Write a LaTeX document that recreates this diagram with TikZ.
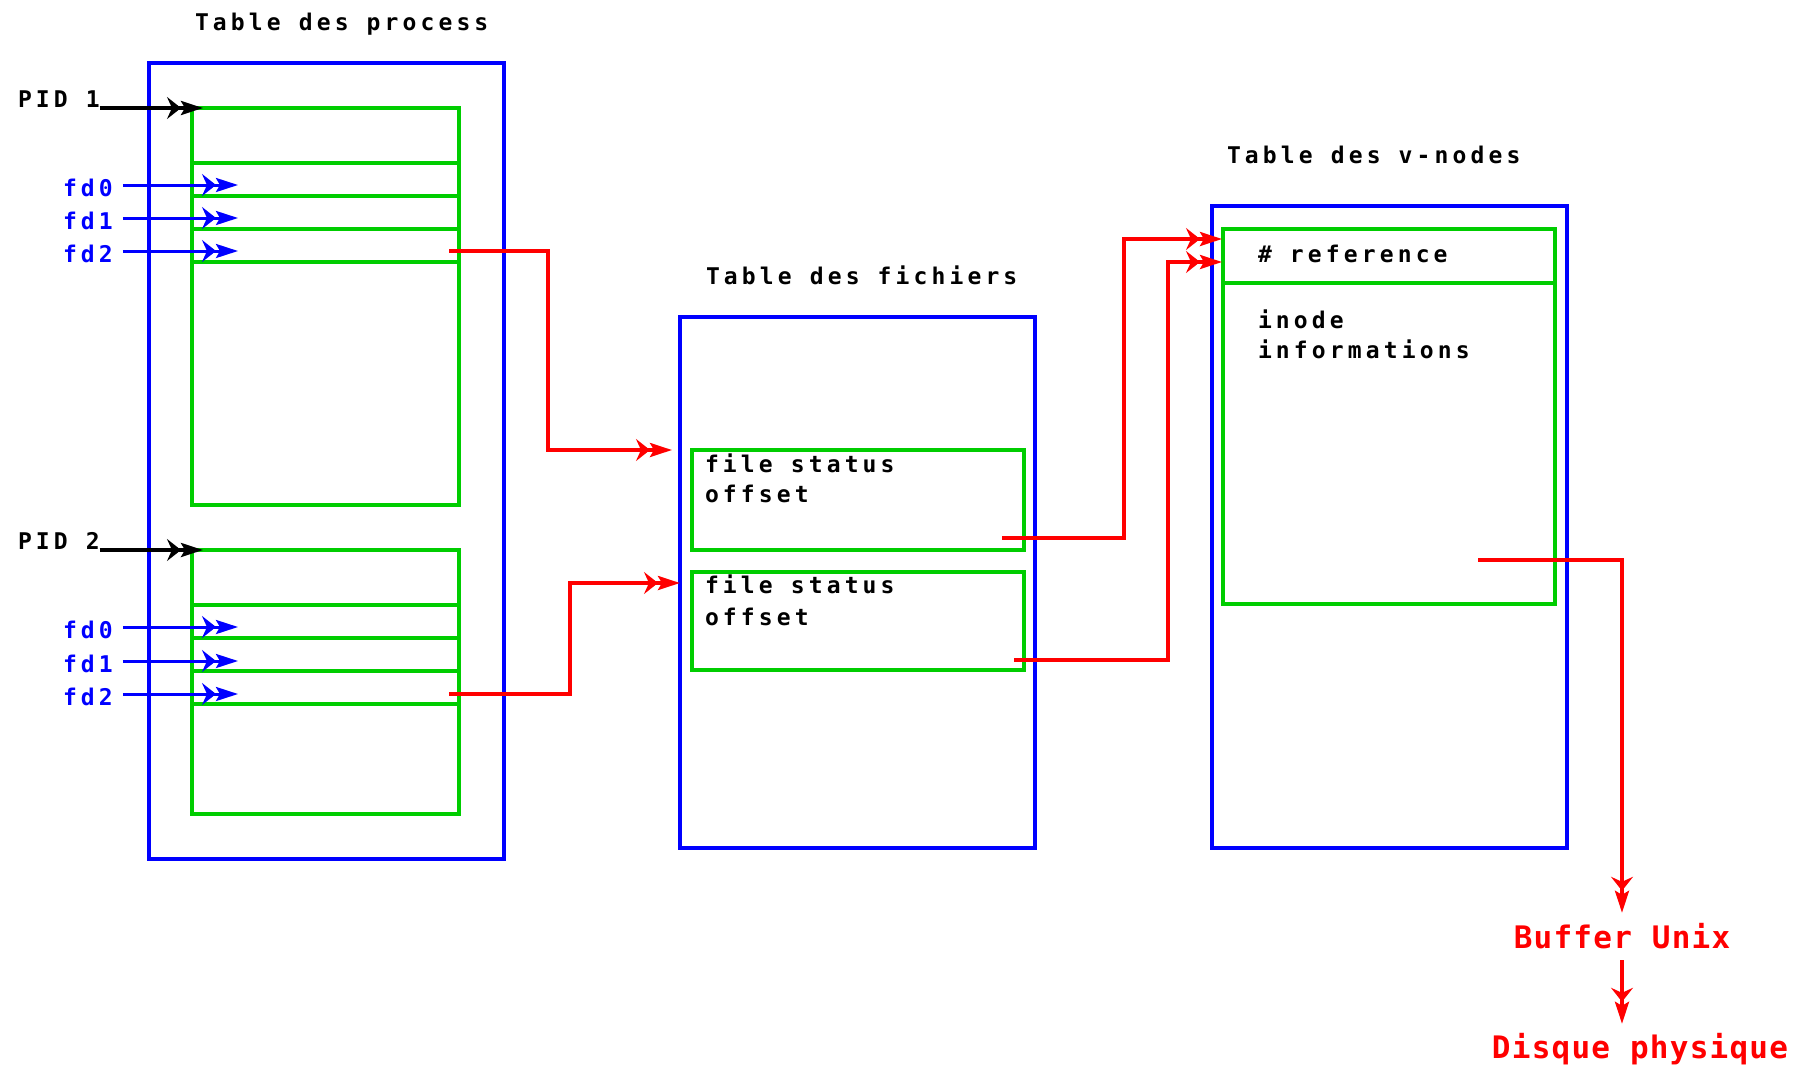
\documentclass[tikz,border=0pt]{standalone}
\usepackage{fontspec}
\usetikzlibrary{arrows.meta}
\newfontfamily\pixfont[LetterSpace=18]{DejaVu Sans Mono}
\newfontfamily\bigpix[LetterSpace=4]{DejaVu Sans Mono}
\definecolor{vblue}{RGB}{0,0,255}
\definecolor{vgreen}{RGB}{0,205,0}
\definecolor{vred}{RGB}{255,0,0}
\tikzset{
  every node/.style={inner sep=0pt, outer sep=0pt},
  bluebox/.style={draw=vblue, line width=4pt, anchor=north west, rectangle},
  greenbox/.style={draw=vgreen, line width=4pt, anchor=north west, rectangle, minimum width=267pt},
  greenbox2/.style={draw=vgreen, line width=4pt, anchor=north west, rectangle, minimum width=332pt},
  lbl/.style={font=\pixfont\bfseries\fontsize{23}{26}\selectfont, anchor=base west, text=black},
  fdlbl/.style={lbl, text=vblue},
  redlbl/.style={font=\bigpix\bfseries\fontsize{31}{36}\selectfont, text=vred, anchor=base},
  dblhead/.style={-{Stealth[length=14pt,width=22pt,inset=5pt] Stealth[length=22pt,width=14pt,inset=4pt]}},
  blkarrow/.style={draw=black, line width=3.5pt, dblhead},
  fdarrow/.style={draw=vblue, line width=3pt, dblhead, shorten <=10pt},
  redarrow/.style={draw=vred, line width=3.5pt, dblhead},
}
\begin{document}
\begin{tikzpicture}[x=1pt, y=-1pt]
\fill[white] (0,0) rectangle (1796,1068);
\useasboundingbox (0,0) rectangle (1796,1068);

% titles
\node[lbl] (t1) at (195,30) {Table des process};
\node[lbl] (t2) at (706,284) {Table des fichiers};
\node[lbl] (t3) at (1227,163) {Table des v-nodes};

% process table
\node[bluebox, minimum width=355pt, minimum height=796pt] (procs) at (149,63) {};
\node[greenbox, minimum height=55pt] (p1h) at (192,108) {};
\node[greenbox, minimum height=33pt] (p1a) at (192,163) {};
\node[greenbox, minimum height=33pt] (p1b) at (192,196) {};
\node[greenbox, minimum height=33pt] (p1c) at (192,229) {};
\node[greenbox, minimum height=243pt] (p1r) at (192,262) {};
\node[greenbox, minimum height=55pt] (p2h) at (192,550) {};
\node[greenbox, minimum height=33pt] (p2a) at (192,605) {};
\node[greenbox, minimum height=33pt] (p2b) at (192,638) {};
\node[greenbox, minimum height=33pt] (p2c) at (192,671) {};
\node[greenbox, minimum height=110pt] (p2r) at (192,704) {};

% file table
\node[bluebox, minimum width=355pt, minimum height=531pt] (files) at (680,317) {};
\node[greenbox2, minimum height=100pt] (fa) at (692,450) {};
\node[greenbox2, minimum height=98pt] (fb) at (692,572) {};
\node[lbl] (fa1) at (705,472) {file status};
\node[lbl] (fa2) at (705,502) {offset};
\node[lbl] (fb1) at (705,593) {file status};
\node[lbl] (fb2) at (705,625) {offset};

% v-node table
\node[bluebox, minimum width=355pt, minimum height=642pt] (vnodes) at (1212,206) {};
\node[greenbox2, minimum height=54pt] (vref) at (1223,229) {};
\node[greenbox2, minimum height=321pt] (vinfo) at (1223,283) {};
\node[lbl] (reft) at (1258,262) {\# reference};
\node[lbl] (ino1) at (1258,328) {inode};
\node[lbl] (ino2) at (1258,358) {informations};

% PID labels and arrows
\node[lbl] (pid1) at (18,107) {PID 1};
\node[lbl] (pid2) at (18,549) {PID 2};
\draw[blkarrow] (pid1.base east |- p1h.north) -- ([xshift=11pt]p1h.north west);
\draw[blkarrow] (pid2.base east |- p2h.north) -- ([xshift=11pt]p2h.north west);

% fd labels and arrows
\node[fdlbl] (f10) at (63,196) {fd0};
\node[fdlbl] (f11) at (63,229) {fd1};
\node[fdlbl] (f12) at (63,262) {fd2};
\node[fdlbl] (f20) at (63,638) {fd0};
\node[fdlbl] (f21) at (63,672) {fd1};
\node[fdlbl] (f22) at (63,705) {fd2};
\coordinate (a10) at (238,185);
\coordinate (a11) at (238,218);
\coordinate (a12) at (238,251);
\coordinate (a20) at (238,627);
\coordinate (a21) at (238,661);
\coordinate (a22) at (238,694);
\draw[fdarrow] (f10.east |- a10) -- (a10);
\draw[fdarrow] (f11.east |- a11) -- (a11);
\draw[fdarrow] (f12.east |- a12) -- (a12);
\draw[fdarrow] (f20.east |- a20) -- (a20);
\draw[fdarrow] (f21.east |- a21) -- (a21);
\draw[fdarrow] (f22.east |- a22) -- (a22);

% red connectors
\coordinate (s1) at (449,251);
\coordinate (e1) at (672,450);
\coordinate (s2) at (449,694);
\coordinate (e2) at (680,583);
\coordinate (s3) at (1002,538);
\coordinate (e3) at (1222,239);
\coordinate (s4) at (1014,660);
\coordinate (e4) at (1222,262);
\coordinate (s5) at (1478,560);
\draw[redarrow] (s1) -- ++(99,0) |- (e1);
\draw[redarrow] (s2) -- ++(121,0) |- (e2);
\draw[redarrow] (s3) -- ++(122,0) |- (e3);
\draw[redarrow] (s4) -- ++(154,0) |- (e4);

\node[redlbl] (buf) at (1622,948) {Buffer Unix};
\node[redlbl] (disk) at (1640,1058) {Disque physique};
\draw[redarrow] (s5) -| ([yshift=10pt]buf.north);
\draw[redarrow] ([yshift=-12pt]buf.south) -- ([yshift=9pt]buf.south |- disk.north);
\end{tikzpicture}
\end{document}
